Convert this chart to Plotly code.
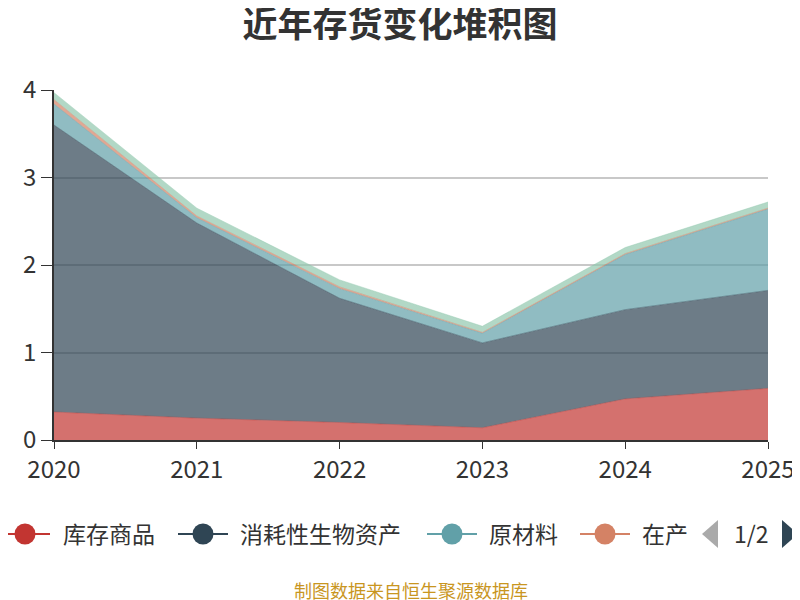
import plotly.graph_objects as go

# 近年存货数据（亿元）
years = [2020, 2021, 2022, 2023, 2024, 2025]
kucun_shangpin = [0.32, 0.25, 0.20, 0.14, 0.47, 0.59]
xiaohao_shengwu = [3.28, 2.23, 1.42, 0.97, 1.02, 1.12]
yuancailiao = [0.24, 0.06, 0.11, 0.11, 0.63, 0.93]
zaichan = [0.05, 0.02, 0.02, 0.01, 0.01, 0.01]
zhouzhuan = [0.08, 0.09, 0.08, 0.07, 0.07, 0.07]

names = ["库存商品", "消耗性生物资产", "原材料", "在产", "周转材料"]
series = [kucun_shangpin, xiaohao_shengwu, yuancailiao, zaichan, zhouzhuan]
colors = ["#c23531", "#2f4554", "#61a0a8", "#d48265", "#91c7ae"]
fills = ["rgba(194,53,49,0.7)", "rgba(47,69,84,0.7)", "rgba(97,160,168,0.7)",
         "rgba(212,130,101,0.7)", "rgba(145,199,174,0.7)"]

FONT = "Noto Sans CJK SC"

# 页面左上有 8px 的 body 边距，以下按截图像素换算到 paper 坐标
def px(sx):
    return (sx - 54) / 714

def py(sy):
    return (440 - sy) / 350

fig = go.Figure()
for name, vals, fc in zip(names, series, fills):
    fig.add_trace(go.Scatter(
        x=years, y=vals, name=name, stackgroup="inv", mode="lines",
        line=dict(color=fc, width=0.6), fillcolor=fc, showlegend=False,
    ))

# 手绘图例（第一页四项 + 翻页）
shapes, annotations = [], []
legend_pos = [(0, 61), (178, 238), (427, 487), (580, 640)]
LY = 534
for (lx, tx), name, col in zip(legend_pos, names[:4], colors[:4]):
    shapes.append(dict(type="line", xref="paper", yref="paper",
                       x0=px(lx), x1=px(lx + 50), y0=py(LY), y1=py(LY),
                       line=dict(color=col, width=2)))
    shapes.append(dict(type="circle", xref="paper", yref="paper",
                       x0=px(lx + 14.5), x1=px(lx + 35.5), y0=py(LY + 10.5), y1=py(LY - 10.5),
                       fillcolor=col, line=dict(color=col, width=0)))
    annotations.append(dict(text=name, x=px(tx), y=py(533), xref="paper", yref="paper",
                            xanchor="left", yanchor="middle", showarrow=False,
                            font=dict(size=23, color="#333")))

shapes.append(dict(type="path", xref="paper", yref="paper", fillcolor="#aaaaaa",
                   line=dict(width=0),
                   path=f"M{px(718)},{py(520)} L{px(718)},{py(548)} L{px(702)},{py(534)} Z"))
shapes.append(dict(type="path", xref="paper", yref="paper", fillcolor="#2f4554",
                   line=dict(width=0),
                   path=f"M{px(782)},{py(520)} L{px(782)},{py(548)} L{px(798)},{py(534)} Z"))
annotations.append(dict(text="1/2", x=px(751), y=py(533), xref="paper", yref="paper",
                        xanchor="center", yanchor="middle", showarrow=False,
                        font=dict(size=23, color="#333")))
annotations.append(dict(text="亿元", x=px(-5), y=py(115), xref="paper", yref="paper",
                        xanchor="center", yanchor="middle", showarrow=False,
                        textangle=-90, font=dict(size=18, color="red")))
annotations.append(dict(text="制图数据来自恒生聚源数据库", x=0.5, y=py(590),
                        xref="paper", yref="paper", xanchor="center", yanchor="middle",
                        showarrow=False, font=dict(size=18, color="#c9961f")))

fig.update_layout(
    width=792, height=592,
    margin=dict(l=46, r=32, t=82, b=160),
    paper_bgcolor="white", plot_bgcolor="white",
    font=dict(family=FONT, color="#333"),
    showlegend=False,
    title=dict(text="<b>近年存货变化堆积图</b>", x=392 / 792, xanchor="center",
               y=1 - 17 / 592, yanchor="middle", font=dict(size=35, color="#333", family=FONT)),
    xaxis=dict(range=[2020, 2025], tickmode="array", tickvals=years,
               ticktext=[str(y) for y in years], showgrid=False,
               showline=True, linecolor="#333", linewidth=1.5,
               ticks="outside", ticklen=7, tickcolor="#333", automargin=False,
               tickfont=dict(size=24, color="#333"), zeroline=False),
    yaxis=dict(range=[0, 4], dtick=1, showgrid=True, gridcolor="#c8c8c8", gridwidth=1.5,
               showline=True, linecolor="#333", linewidth=1.5,
               ticks="outside", ticklen=11, tickcolor="#333", automargin=False,
               tickfont=dict(size=24, color="#333"), zeroline=False),
    shapes=shapes,
    annotations=annotations,
)

fig.write_html("out.html")
